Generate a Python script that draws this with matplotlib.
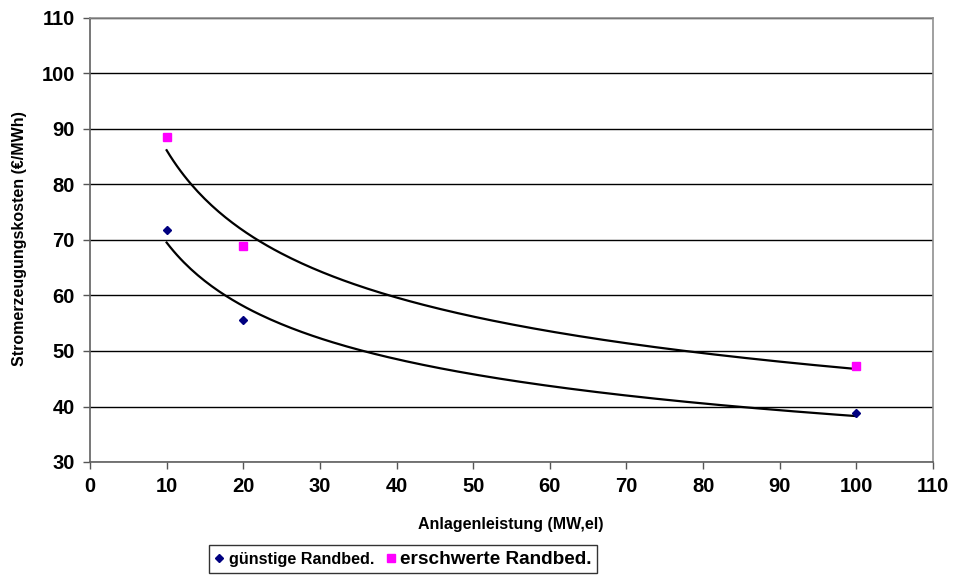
import matplotlib
matplotlib.use('Agg')
import matplotlib.pyplot as plt
import numpy as np

plt.rcParams['font.family'] = ['Liberation Sans', 'DejaVu Sans']
plt.rcParams['font.weight'] = 'bold'

# data
leistung = [10, 20, 100]
guenstig = [71.8, 55.5, 38.8]
erschwert = [88.5, 69.0, 47.3]
x_ticks = list(range(0, 111, 10))
y_ticks = list(range(30, 111, 10))


def power_trend(x, y):
    # excel-style power trendline: fit in log-log space
    b, ln_a = np.polyfit(np.log(x), np.log(y), 1)
    xs = np.linspace(min(x), max(x), 200)
    return xs, np.exp(ln_a) * xs ** b


fig = plt.figure(figsize=(9.59, 5.75), dpi=100)
ax = fig.add_axes([90 / 959, 1 - 462 / 575, (933 - 90) / 959, (462 - 18) / 575])

for vals in (guenstig, erschwert):
    xs, ys = power_trend(leistung, vals)
    ax.plot(xs, ys, color='black', lw=1.6, zorder=2)

h1, = ax.plot(leistung, guenstig, ls='none', marker='D', ms=4.5, color='#000080', zorder=3)
h2, = ax.plot(leistung, erschwert, ls='none', marker='s', ms=5.5, color='#FF00FF', zorder=3)

ax.set_xlim(0, 110)
ax.set_ylim(30, 110)
ax.set_xticks(x_ticks)
ax.set_yticks(y_ticks)
ax.tick_params(labelsize=14.5, length=5, width=1, color='#555555', pad=6)
for lab in ax.get_xticklabels() + ax.get_yticklabels():
    lab.set_fontweight('bold')
ax.yaxis.grid(True, color='black', lw=1)
ax.set_axisbelow(True)
for side in ('top', 'right'):
    ax.spines[side].set_color('#909090')
for side in ('left', 'bottom'):
    ax.spines[side].set_color('#606060')
for sp in ax.spines.values():
    sp.set_linewidth(1.2)

fig.text(511 / 959, 1 - 524 / 575, 'Anlagenleistung (MW,el)', ha='center', va='center',
         fontsize=11.5, fontweight='bold')
fig.text(20 / 959, 1 - 239 / 575, 'Stromerzeugungskosten (€/MWh)', ha='center', va='center',
         rotation=90, fontsize=11.5, fontweight='bold')

leg = fig.legend([h1, h2], ['günstige Randbed.', 'erschwerte Randbed.'], loc='upper left',
                 bbox_to_anchor=(209 / 959, 1 - 545 / 575), ncol=2, frameon=True,
                 borderaxespad=0, fancybox=False, edgecolor='black', fontsize=11.6,
                 handlelength=0.6, handletextpad=0.3, columnspacing=0.7, borderpad=0.35)
leg.get_frame().set_linewidth(1)
leg.get_texts()[1].set_fontsize(13.7)

fig.savefig('out.png', dpi=100)
